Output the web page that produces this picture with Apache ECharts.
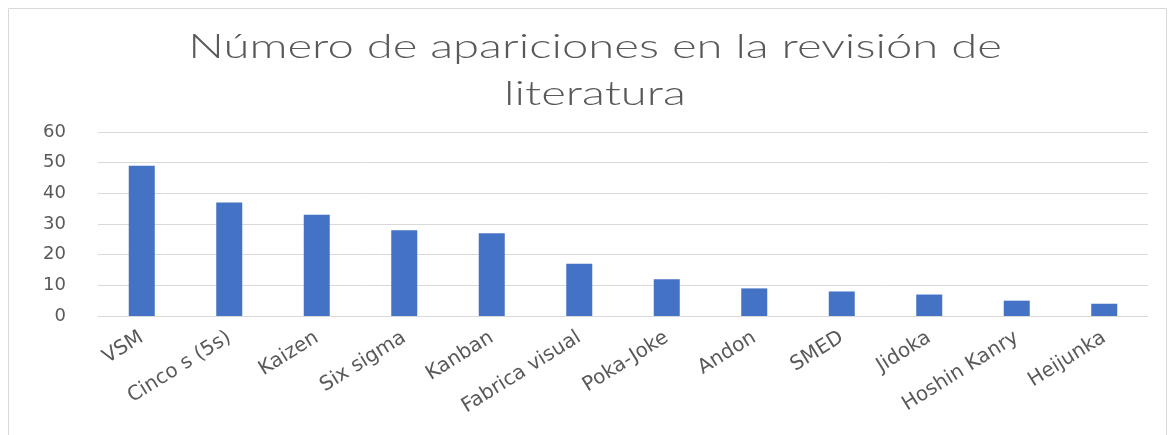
<!DOCTYPE html>
<html>
<head>
<meta charset="utf-8">
<script src="https://cdn.jsdelivr.net/npm/echarts@6/dist/echarts.min.js"></script>
<style>
  html, body { margin: 0; padding: 0; background: #fff; }
  #chart { width: 1176px; height: 435px; }
</style>
</head>
<body>
<div id="chart"></div>
<script>
// datos
const categorias = ['VSM', 'Cinco s (5s)', 'Kaizen', 'Six sigma', 'Kanban', 'Fabrica visual',
  'Poka-Joke', 'Andon', 'SMED', 'Jidoka', 'Hoshin Kanry', 'Heijunka']
const apariciones = [49, 37, 33, 28, 27, 17, 12, 9, 8, 7, 5, 4]
const titulo = 'Número de apariciones en la revisión de\nliteratura'

const myChart = echarts.init(document.getElementById('chart'))
const option = {
  backgroundColor: '#fff',
  animation: false,
  graphic: [
    {
      type: 'rect',
      shape: { x: 8.5, y: 8.5, width: 1158, height: 440 },
      style: { fill: 'none', stroke: '#d9d9d9', lineWidth: 1 },
      silent: true
    },
    {
      // titulo (estirado a lo ancho como en la imagen)
      type: 'text',
      x: 595,
      y: 24,
      scaleX: 1.39,
      silent: true,
      style: {
        text: titulo,
        fontFamily: 'Lato',
        fontWeight: 300,
        fontSize: 34,
        lineHeight: 47,
        fill: '#595959',
        align: 'center',
        verticalAlign: 'top'
      }
    }
  ],
  grid: {
    left: 98,
    right: 28,
    top: 132,
    bottom: 119
  },
  xAxis: {
    type: 'category',
    data: categorias,
    axisLine: { show: true, lineStyle: { color: '#d9d9d9' } },
    axisTick: { show: false },
    axisLabel: {
      rotate: 32,
      interval: 0,
      margin: 20,
      color: '#595959',
      fontFamily: 'DejaVu Sans',
      fontSize: 20
    }
  },
  yAxis: {
    type: 'value',
    min: 0,
    max: 60,
    interval: 10,
    axisLine: { show: false },
    axisTick: { show: false },
    axisLabel: {
      color: '#595959',
      fontFamily: 'DejaVu Sans',
      fontSize: 18,
      margin: 32
    },
    splitLine: { lineStyle: { color: '#d9d9d9', width: 1 } }
  },
  series: [
    {
      type: 'bar',
      data: apariciones,
      barWidth: 26,
      itemStyle: { color: '#4472C4' }
    }
  ]
}
myChart.setOption(option)
</script>
</body>
</html>
